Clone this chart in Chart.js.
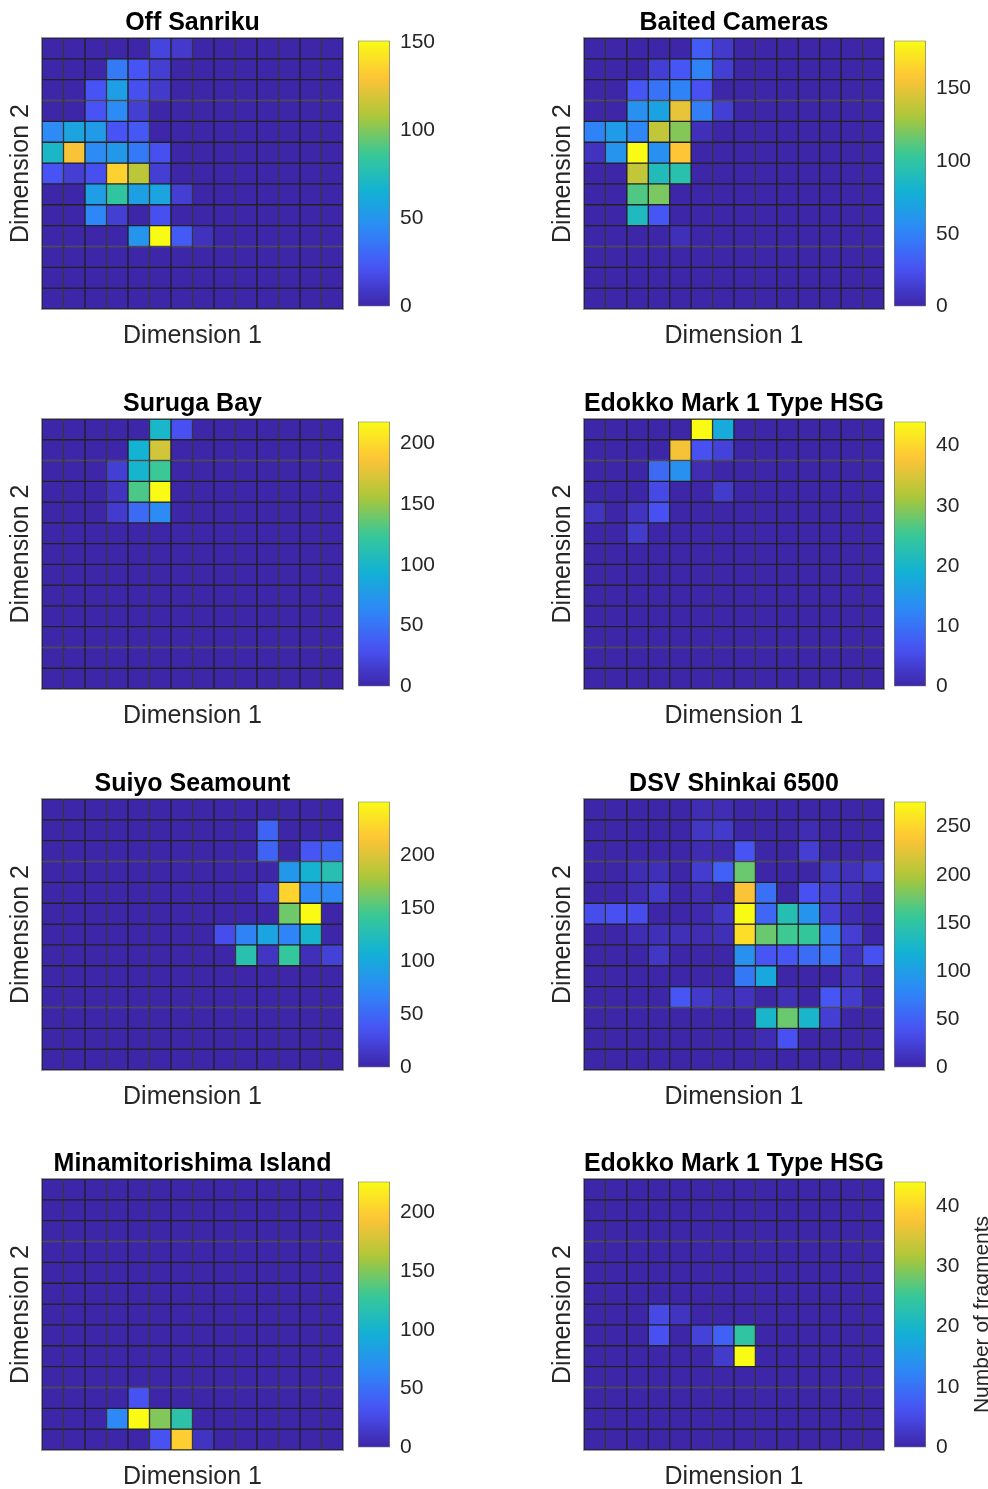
<!DOCTYPE html>
<html>
<head>
<meta charset="utf-8">
<script src="https://cdn.jsdelivr.net/npm/chart.js@4"></script>
<style>
  html, body { margin: 0; padding: 0; background: #fff; overflow: hidden; }
  body { width: 988px; height: 1489px; position: relative; }
  .box { position: absolute; }
</style>
</head>
<body>
<script>
// ---------------- DATA (rows listed top to bottom, 14 columns) ----------------
const titles = ["Off Sanriku", "Baited Cameras", "Suruga Bay", "Edokko Mark 1 Type HSG",
                "Suiyo Seamount", "DSV Shinkai 6500", "Minamitorishima Island", "Edokko Mark 1 Type HSG"];
const colorMax = [151, 183, 218, 44, 250, 276, 226, 44];
const colorbarTicks = [
  [0, 50, 100, 150],
  [0, 50, 100, 150],
  [0, 50, 100, 150, 200],
  [0, 10, 20, 30, 40],
  [0, 50, 100, 150, 200],
  [0, 50, 100, 150, 200, 250],
  [0, 50, 100, 150, 200],
  [0, 10, 20, 30, 40]
];
const columns = ["1","2","3","4","5","6","7","8","9","10","11","12","13","14"];
const xLabel = "Dimension 1";
const yLabel = "Dimension 2";
const colorbarLabel = "Number of fragments";

const offSanriku = [
  [0,0,0,0,0,15,10,0,0,0,0,0,0,0],
  [0,0,0,38,22,12,0,0,0,0,0,0,0,0],
  [0,0,22,55,20,10,0,0,0,0,0,0,0,0],
  [0,0,22,45,12,0,0,0,0,0,0,0,0,0],
  [45,58,53,22,24,0,0,0,0,0,0,0,0,0],
  [70,128,45,52,38,20,0,0,0,0,0,0,0,0],
  [22,12,20,135,112,12,0,0,0,0,0,0,0,0],
  [0,0,55,83,56,58,12,0,0,0,0,0,0,0],
  [0,0,43,12,0,20,0,0,0,0,0,0,0,0],
  [0,0,0,0,50,151,25,6,0,0,0,0,0,0],
  [0,0,0,0,0,0,0,0,0,0,0,0,0,0],
  [0,0,0,0,0,0,0,0,0,0,0,0,0,0],
  [0,0,0,0,0,0,0,0,0,0,0,0,0,0]
];
const baitedCameras = [
  [0,0,0,0,0,30,12,0,0,0,0,0,0,0],
  [0,0,0,15,28,50,15,0,0,0,0,0,0,0],
  [0,0,28,42,50,25,0,0,0,0,0,0,0,0],
  [0,0,58,70,150,48,15,0,0,0,0,0,0,0],
  [50,65,52,138,122,6,0,0,0,0,0,0,0,0],
  [8,60,183,58,158,0,0,0,0,0,0,0,0,0],
  [0,0,138,90,95,0,0,0,0,0,0,0,0,0],
  [0,0,110,120,0,0,0,0,0,0,0,0,0,0],
  [0,0,88,28,0,0,0,0,0,0,0,0,0,0],
  [0,0,0,0,6,0,0,0,0,0,0,0,0,0],
  [0,0,0,0,0,0,0,0,0,0,0,0,0,0],
  [0,0,0,0,0,0,0,0,0,0,0,0,0,0],
  [0,0,0,0,0,0,0,0,0,0,0,0,0,0]
];
const surugaBay = [
  [0,0,0,0,0,100,30,0,0,0,0,0,0,0],
  [0,0,0,0,95,170,0,0,0,0,0,0,0,0],
  [0,0,0,18,98,125,0,0,0,0,0,0,0,0],
  [0,0,0,10,130,218,0,0,0,0,0,0,0,0],
  [0,0,0,15,45,65,0,0,0,0,0,0,0,0],
  [0,0,0,0,0,0,0,0,0,0,0,0,0,0],
  [0,0,0,0,0,0,0,0,0,0,0,0,0,0],
  [0,0,0,0,0,0,0,0,0,0,0,0,0,0],
  [0,0,0,0,0,0,0,0,0,0,0,0,0,0],
  [0,0,0,0,0,0,0,0,0,0,0,0,0,0],
  [0,0,0,0,0,0,0,0,0,0,0,0,0,0],
  [0,0,0,0,0,0,0,0,0,0,0,0,0,0],
  [0,0,0,0,0,0,0,0,0,0,0,0,0,0]
];
const edokkoA = [
  [0,0,0,0,0,44,18,0,0,0,0,0,0,0],
  [0,0,0,0,37,6,4,0,0,0,0,0,0,0],
  [0,0,0,9,14,1,0,0,0,0,0,0,0,0],
  [0,0,0,5,0,0,3,0,0,0,0,0,0,0],
  [2,0,2,6,0,0,0,0,0,0,0,0,0,0],
  [0,0,3,0,0,0,0,0,0,0,0,0,0,0],
  [0,0,0,0,0,0,0,0,0,0,0,0,0,0],
  [0,0,0,0,0,0,0,0,0,0,0,0,0,0],
  [0,0,0,0,0,0,0,0,0,0,0,0,0,0],
  [0,0,0,0,0,0,0,0,0,0,0,0,0,0],
  [0,0,0,0,0,0,0,0,0,0,0,0,0,0],
  [0,0,0,0,0,0,0,0,0,0,0,0,0,0],
  [0,0,0,0,0,0,0,0,0,0,0,0,0,0]
];
const suiyoSeamount = [
  [0,0,0,0,0,0,0,0,0,0,0,0,0,0],
  [0,0,0,0,0,0,0,0,0,0,48,0,0,0],
  [0,0,0,0,0,0,0,0,0,0,48,0,38,48],
  [0,0,0,0,0,0,0,0,0,0,0,85,110,128],
  [0,0,0,0,0,0,0,0,0,0,20,225,72,72],
  [0,0,0,0,0,0,0,0,0,0,0,160,250,0],
  [0,0,0,0,0,0,0,0,32,68,95,70,112,0],
  [0,0,0,0,0,0,0,0,0,130,12,140,8,22],
  [0,0,0,0,0,0,0,0,0,0,0,0,0,0],
  [0,0,0,0,0,0,0,0,0,0,0,0,0,0],
  [0,0,0,0,0,0,0,0,0,0,0,0,0,0],
  [0,0,0,0,0,0,0,0,0,0,0,0,0,0],
  [0,0,0,0,0,0,0,0,0,0,0,0,0,0]
];
const shinkai6500 = [
  [0,0,0,0,0,6,6,0,0,0,0,0,0,0],
  [0,0,0,0,0,14,18,0,0,0,6,0,0,0],
  [0,0,0,0,0,5,3,40,0,0,22,0,0,0],
  [0,0,6,8,0,20,50,175,0,0,0,15,10,18],
  [0,0,6,18,0,6,0,235,62,0,38,20,10,0],
  [35,38,35,0,0,3,15,276,55,140,90,22,5,0],
  [0,0,6,8,8,6,8,255,175,160,155,68,22,0],
  [0,0,0,15,0,0,0,88,42,42,58,60,12,38],
  [0,0,0,0,0,0,0,68,110,0,0,0,10,0],
  [0,0,0,0,42,18,8,12,0,8,0,42,20,0],
  [0,0,0,0,0,0,0,0,125,175,125,22,0,0],
  [0,0,0,0,0,0,0,0,5,38,0,0,0,0],
  [0,0,0,0,0,0,0,0,0,0,0,0,0,0]
];
const minamitorishima = [
  [0,0,0,0,0,0,0,0,0,0,0,0,0,0],
  [0,0,0,0,0,0,0,0,0,0,0,0,0,0],
  [0,0,0,0,0,0,0,0,0,0,0,0,0,0],
  [0,0,0,0,0,0,0,0,0,0,0,0,0,0],
  [0,0,0,0,0,0,0,0,0,0,0,0,0,0],
  [0,0,0,0,0,0,0,0,0,0,0,0,0,0],
  [0,0,0,0,0,0,0,0,0,0,0,0,0,0],
  [0,0,0,0,0,0,0,0,0,0,0,0,0,0],
  [0,0,0,0,0,0,0,0,0,0,0,0,0,0],
  [0,0,0,0,0,0,0,0,0,0,0,0,0,0],
  [0,0,0,0,32,0,0,0,0,0,0,0,0,0],
  [0,0,0,65,226,150,120,0,0,0,0,0,0,0],
  [0,0,0,0,0,32,200,10,0,0,0,0,0,0]
];
const edokkoB = [
  [0,0,0,0,0,0,0,0,0,0,0,0,0,0],
  [0,0,0,0,0,0,0,0,0,0,0,0,0,0],
  [0,0,0,0,0,0,0,0,0,0,0,0,0,0],
  [0,0,0,0,0,0,0,0,0,0,0,0,0,0],
  [0,0,0,0,0,0,0,0,0,0,0,0,0,0],
  [0,0,0,0,0,0,0,0,0,0,0,0,0,0],
  [0,0,0,5,2,0,0,0,0,0,0,0,0,0],
  [0,0,0,6,0,4,8,24,0,0,0,0,0,0],
  [0,0,0,0,0,0,3,44,0,0,0,0,0,0],
  [0,0,0,0,0,0,0,0,0,0,0,0,0,0],
  [0,0,0,0,0,0,0,0,0,0,0,0,0,0],
  [0,0,0,0,0,0,0,0,0,0,0,0,0,0],
  [0,0,0,0,0,0,0,0,0,0,0,0,0,0]
];
const panelData = [offSanriku, baitedCameras, surugaBay, edokkoA,
                   suiyoSeamount, shinkai6500, minamitorishima, edokkoB];

// ---------------- STYLE / LAYOUT ----------------
const FONT = "'Liberation Sans', Arial, Helvetica, sans-serif";
const TEXT = '#262626';
const heatLeft = [42, 584], heatWidth = [301, 300];
const barLeft = [358, 894];
const heatTop = [38, 419, 799, 1179], heatHeight = [271, 270, 271, 271];

// parula colormap stops
const parulaStops = [
  [62,38,168],[72,82,244],[46,135,247],[18,177,214],
  [55,200,151],[171,199,57],[254,195,56],[249,251,21]
];
function parula(t) {
  t = Math.max(0, Math.min(1, t));
  const n = parulaStops.length - 1;
  const p = t * n;
  const i = Math.min(n - 1, Math.floor(p));
  const f = p - i;
  const a = parulaStops[i], b = parulaStops[i + 1];
  const c = a.map((v, k) => Math.round(v + (b[k] - v) * f));
  return `rgb(${c[0]},${c[1]},${c[2]})`;
}

Chart.defaults.font.family = FONT;
Chart.defaults.color = TEXT;

const framePlugin = {
  id: 'frame',
  afterDatasetsDraw(chart, args, opts) {
    const {ctx, chartArea: a} = chart;
    ctx.save();
    ctx.strokeStyle = opts.color || '#999';
    ctx.lineWidth = 1;
    ctx.strokeRect(Math.round(a.left) - 0.5, Math.round(a.top) - 0.5,
                   Math.round(a.right - a.left) + 1, Math.round(a.bottom - a.top) + 1);
    ctx.restore();
  }
};

function makeBox(left, top, w, h) {
  const d = document.createElement('div');
  d.className = 'box';
  d.style.left = left + 'px'; d.style.top = top + 'px';
  d.style.width = w + 'px'; d.style.height = h + 'px';
  const c = document.createElement('canvas');
  d.appendChild(c);
  document.body.appendChild(d);
  return c;
}

panelData.forEach((matrix, p) => {
  const col = p % 2, row = Math.floor(p / 2);
  const L = heatLeft[col], W = heatWidth[col], T = heatTop[row], H = heatHeight[row];
  const cmax = colorMax[p];

  // ---- heatmap ----
  const cw = 42 + W + 7, ch = 38 + H + 43 + 3;
  const canvas = makeBox(L - 42, T - 38, cw, ch);
  const datasets = matrix.map(r => ({
    data: r.map(() => 1),
    backgroundColor: r.map(v => parula(v / cmax)),
    borderColor: '#222222',
    borderWidth: 1,
    borderSkipped: false,
    barPercentage: 1,
    categoryPercentage: 1
  }));
  new Chart(canvas, {
    type: 'bar',
    data: { labels: columns, datasets },
    plugins: [framePlugin],
    options: {
      responsive: true, maintainAspectRatio: false, animation: false, events: [],
      layout: { padding: { left: 0, top: 0, right: 7, bottom: 3 } },
      plugins: {
        legend: { display: false }, tooltip: { enabled: false },
        frame: { color: '#9a9a9a' },
        title: {
          display: true, text: titles[p], fullSize: false, color: '#000',
          font: { size: 25, weight: 'bold', lineHeight: '28px' },
          padding: { top: 9, bottom: 1 }
        }
      },
      scales: {
        x: {
          stacked: true,
          ticks: { display: false },
          grid: { display: false, drawTicks: false },
          border: { display: false },
          title: { display: true, text: xLabel, color: TEXT,
                   font: { size: 25, lineHeight: '28px' }, padding: { top: 13, bottom: 2 } }
        },
        y: {
          stacked: true, reverse: true, min: 0, max: matrix.length,
          ticks: { display: false },
          grid: { display: false, drawTicks: false },
          border: { display: false },
          title: { display: true, text: yLabel, color: TEXT,
                   font: { size: 25, lineHeight: '28px' }, padding: { top: 7, bottom: 7 } }
        }
      }
    }
  });

  // ---- colorbar ----
  const isLast = p === panelData.length - 1;
  const axisW = isLast ? 100 : 60;
  const barCanvas = makeBox(barLeft[col], T - 20, 32 + axisW, H + 40);
  const plugins = [];
  if (isLast) {
    plugins.push({
      id: 'cbLabel',
      afterDraw(chart) {
        const {ctx, chartArea: a} = chart;
        ctx.save();
        ctx.translate(a.right + 56, (a.top + a.bottom) / 2);
        ctx.rotate(-Math.PI / 2);
        ctx.font = `21px ${FONT}`;
        ctx.fillStyle = TEXT;
        ctx.textAlign = 'center';
        ctx.textBaseline = 'middle';
        ctx.fillText(colorbarLabel, 0, 0);
        ctx.restore();
      }
    });
  }
  const tickValues = colorbarTicks[p];
  new Chart(barCanvas, {
    type: 'bar',
    data: {
      labels: [''],
      datasets: [{
        data: [cmax],
        backgroundColor(ctx) {
          const chart = ctx.chart, a = chart.chartArea;
          if (!a) return parula(0.5);
          const g = chart.ctx.createLinearGradient(0, a.bottom, 0, a.top);
          for (let i = 0; i <= 32; i++) g.addColorStop(i / 32, parula(i / 32));
          return g;
        },
        borderColor: '#7a7a7a', borderWidth: 1, borderSkipped: false,
        barPercentage: 1, categoryPercentage: 1
      }]
    },
    plugins,
    options: {
      responsive: true, maintainAspectRatio: false, animation: false, events: [],
      layout: { padding: { left: 0, top: 20, right: 0, bottom: 20 } },
      plugins: { legend: { display: false }, tooltip: { enabled: false } },
      scales: {
        x: { display: false },
        y: {
          position: 'right', min: 0, max: cmax,
          afterBuildTicks(scale) { scale.ticks = tickValues.map(v => ({ value: v })); },
          afterFit(scale) { scale.width = axisW; },
          ticks: { padding: 10, color: TEXT, font: { size: 21 } },
          grid: { display: false, drawTicks: false },
          border: { display: false }
        }
      }
    }
  });
});
</script>
</body>
</html>
